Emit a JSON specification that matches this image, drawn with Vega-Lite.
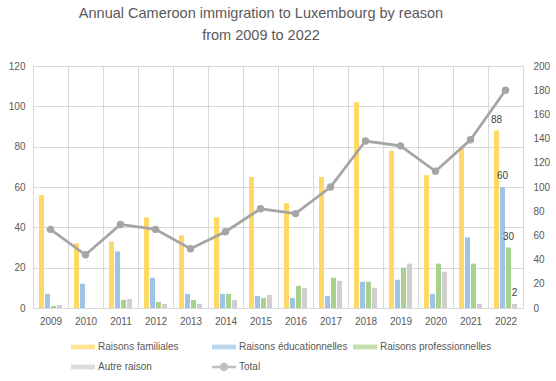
{
  "$schema": "https://vega.github.io/schema/vega-lite/v6.json",
  "width": 490,
  "height": 242,
  "autosize": "none",
  "padding": {"left": 33, "top": 66, "right": 33, "bottom": 73},
  "background": "white",
  "config": {
    "font": "Liberation Sans",
    "view": {"stroke": "#D9D9D9"},
    "axis": {"labelColor": "#595959", "labelFontSize": 10, "gridColor": "#D9D9D9", "domain": false, "ticks": false, "labelOverlap": false}
  },
  "title": {
    "text": ["Annual Cameroon  immigration to Luxembourg by reason", "from 2009 to 2022"],
    "fontSize": 14.5,
    "fontWeight": "normal",
    "color": "#595959",
    "lineHeight": 22,
    "anchor": "middle",
    "dx": -17,
    "offset": 18
  },
  "datasets": {
    "bars": [
      {"year": "2009", "series": "Raisons familiales", "value": 56},
      {"year": "2009", "series": "Raisons éducationnelles", "value": 7},
      {"year": "2009", "series": "Raisons professionnelles", "value": 1},
      {"year": "2009", "series": "Autre raison", "value": 1.5},
      {"year": "2010", "series": "Raisons familiales", "value": 32},
      {"year": "2010", "series": "Raisons éducationnelles", "value": 12},
      {"year": "2010", "series": "Raisons professionnelles", "value": 0},
      {"year": "2010", "series": "Autre raison", "value": 0},
      {"year": "2011", "series": "Raisons familiales", "value": 33},
      {"year": "2011", "series": "Raisons éducationnelles", "value": 28},
      {"year": "2011", "series": "Raisons professionnelles", "value": 4},
      {"year": "2011", "series": "Autre raison", "value": 4.5},
      {"year": "2012", "series": "Raisons familiales", "value": 45},
      {"year": "2012", "series": "Raisons éducationnelles", "value": 15},
      {"year": "2012", "series": "Raisons professionnelles", "value": 3},
      {"year": "2012", "series": "Autre raison", "value": 2},
      {"year": "2013", "series": "Raisons familiales", "value": 36},
      {"year": "2013", "series": "Raisons éducationnelles", "value": 7},
      {"year": "2013", "series": "Raisons professionnelles", "value": 4},
      {"year": "2013", "series": "Autre raison", "value": 2},
      {"year": "2014", "series": "Raisons familiales", "value": 45},
      {"year": "2014", "series": "Raisons éducationnelles", "value": 7},
      {"year": "2014", "series": "Raisons professionnelles", "value": 7},
      {"year": "2014", "series": "Autre raison", "value": 4},
      {"year": "2015", "series": "Raisons familiales", "value": 65},
      {"year": "2015", "series": "Raisons éducationnelles", "value": 6},
      {"year": "2015", "series": "Raisons professionnelles", "value": 5},
      {"year": "2015", "series": "Autre raison", "value": 6.5},
      {"year": "2016", "series": "Raisons familiales", "value": 52},
      {"year": "2016", "series": "Raisons éducationnelles", "value": 5},
      {"year": "2016", "series": "Raisons professionnelles", "value": 11},
      {"year": "2016", "series": "Autre raison", "value": 10},
      {"year": "2017", "series": "Raisons familiales", "value": 65},
      {"year": "2017", "series": "Raisons éducationnelles", "value": 6},
      {"year": "2017", "series": "Raisons professionnelles", "value": 15},
      {"year": "2017", "series": "Autre raison", "value": 13.5},
      {"year": "2018", "series": "Raisons familiales", "value": 102},
      {"year": "2018", "series": "Raisons éducationnelles", "value": 13},
      {"year": "2018", "series": "Raisons professionnelles", "value": 13},
      {"year": "2018", "series": "Autre raison", "value": 10},
      {"year": "2019", "series": "Raisons familiales", "value": 78},
      {"year": "2019", "series": "Raisons éducationnelles", "value": 14},
      {"year": "2019", "series": "Raisons professionnelles", "value": 20},
      {"year": "2019", "series": "Autre raison", "value": 22},
      {"year": "2020", "series": "Raisons familiales", "value": 66},
      {"year": "2020", "series": "Raisons éducationnelles", "value": 7},
      {"year": "2020", "series": "Raisons professionnelles", "value": 22},
      {"year": "2020", "series": "Autre raison", "value": 18},
      {"year": "2021", "series": "Raisons familiales", "value": 80},
      {"year": "2021", "series": "Raisons éducationnelles", "value": 35},
      {"year": "2021", "series": "Raisons professionnelles", "value": 22},
      {"year": "2021", "series": "Autre raison", "value": 2},
      {"year": "2022", "series": "Raisons familiales", "value": 88},
      {"year": "2022", "series": "Raisons éducationnelles", "value": 60},
      {"year": "2022", "series": "Raisons professionnelles", "value": 30},
      {"year": "2022", "series": "Autre raison", "value": 2}
    ],
    "total": [
      {"year": "2009", "total": 65},
      {"year": "2010", "total": 44},
      {"year": "2011", "total": 69},
      {"year": "2012", "total": 65},
      {"year": "2013", "total": 49},
      {"year": "2014", "total": 63},
      {"year": "2015", "total": 82},
      {"year": "2016", "total": 78},
      {"year": "2017", "total": 100},
      {"year": "2018", "total": 138},
      {"year": "2019", "total": 134},
      {"year": "2020", "total": 113},
      {"year": "2021", "total": 139},
      {"year": "2022", "total": 180}
    ]
  },
  "layer": [
    {
      "data": {"name": "bars"},
      "layer": [
        {
          "mark": {"type": "bar"},
          "encoding": {
            "x": {
              "field": "year", "type": "ordinal",
              "scale": {"paddingInner": 0, "paddingOuter": 0},
              "axis": {"title": null, "tickBand": "extent", "grid": true, "labelAngle": 0, "labelPadding": 8}
            },
            "xOffset": {
              "field": "series", "type": "nominal",
              "scale": {"domain": ["Raisons familiales", "Raisons éducationnelles", "Raisons professionnelles", "Autre raison"], "paddingInner": 0.17, "paddingOuter": 1}
            },
            "y": {
              "field": "value", "type": "quantitative",
              "scale": {"domain": [0, 120]},
              "axis": {"title": null, "values": [0, 20, 40, 60, 80, 100, 120], "labelPadding": 8}
            },
            "color": {
              "field": "series", "type": "nominal",
              "scale": {
                "domain": ["Raisons familiales", "Raisons éducationnelles", "Raisons professionnelles", "Autre raison", "Total"],
                "range": ["#FFD966", "#9DC3E6", "#A9D18E", "#D0CECE", "#A5A5A5"]
              },
              "legend": {
                "title": null, "orient": "none", "direction": "horizontal", "legendX": 38, "legendY": 269, "columns": 3, "gridAlign": "all",
                "columnPadding": 2, "rowPadding": 3, "symbolSize": 576, "symbolStrokeWidth": 0, "labelOffset": 3,
                "labelFontSize": 10, "labelColor": "#595959", "padding": 0, "labelLimit": 300
              }
            }
          }
        },
        {
          "transform": [{"filter": "datum.year == '2022'"}],
          "mark": {"type": "text", "baseline": "alphabetic", "dy": -8, "fontSize": 10, "color": "#404040"},
          "encoding": {
            "x": {"field": "year", "type": "ordinal"},
            "xOffset": {"field": "series", "type": "nominal"},
            "y": {"field": "value", "type": "quantitative", "axis": {"title": null, "values": [0, 20, 40, 60, 80, 100, 120], "labelPadding": 8}},
            "text": {"field": "value", "type": "quantitative"}
          }
        },
        {
          "transform": [{"filter": "false"}],
          "mark": {"type": "point", "filled": true},
          "encoding": {
            "color": {"field": "series", "type": "nominal"},
            "shape": {
              "field": "series", "type": "nominal",
              "scale": {
                "domain": ["Raisons familiales", "Raisons éducationnelles", "Raisons professionnelles", "Autre raison", "Total"],
                "range": [
                  "M-1,-0.2H1V0.2H-1Z",
                  "M-1,-0.2H1V0.2H-1Z",
                  "M-1,-0.2H1V0.2H-1Z",
                  "M-1,-0.2H1V0.2H-1Z",
                  "M-1,-0.11H1V0.11H-1Z M-0.35,0A0.35,0.35 0 1,1 0.35,0A0.35,0.35 0 1,1 -0.35,0Z"
                ]
              },
              "legend": {
                "title": null, "orient": "none", "direction": "horizontal", "legendX": 38, "legendY": 269, "columns": 3, "gridAlign": "all",
                "columnPadding": 2, "rowPadding": 3, "symbolSize": 576, "symbolStrokeWidth": 0, "labelOffset": 3,
                "labelFontSize": 10, "labelColor": "#595959", "padding": 0, "labelLimit": 300
              }
            }
          }
        }
      ]
    },
    {
      "data": {"name": "total"},
      "layer": [
        {
          "mark": {"type": "line", "color": "#A5A5A5", "strokeWidth": 2.75},
          "encoding": {
            "x": {"field": "year", "type": "ordinal"},
            "y": {
              "field": "total", "type": "quantitative",
              "scale": {"domain": [0, 200]},
              "axis": {"title": null, "orient": "right", "values": [0, 20, 40, 60, 80, 100, 120, 140, 160, 180, 200], "grid": false, "labelPadding": 10, "labelOverlap": false, "labelBound": false, "labelFlush": false}
            }
          }
        },
        {
          "mark": {"type": "circle", "color": "#A5A5A5", "size": 55, "opacity": 1},
          "encoding": {
            "x": {"field": "year", "type": "ordinal"},
            "y": {
              "field": "total", "type": "quantitative",
              "axis": {"title": null, "orient": "right", "values": [0, 20, 40, 60, 80, 100, 120, 140, 160, 180, 200], "grid": false, "labelPadding": 10, "labelOverlap": false, "labelBound": false, "labelFlush": false}
            }
          }
        }
      ]
    }
  ],
  "resolve": {"scale": {"y": "independent"}}
}
